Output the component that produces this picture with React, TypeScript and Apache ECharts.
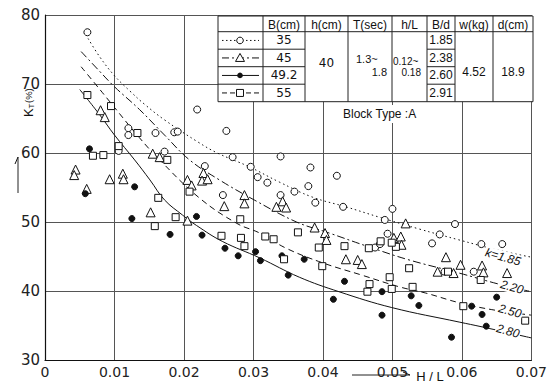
import React, { useEffect, useRef } from "react";
import * as echarts from "echarts";

// ---- data (x = H/L, y = K_T %) ----
const circleB35: [number, number][] = [
  [0.0061, 77.5], [0.012, 63.6], [0.012, 62.6], [0.0159, 62.9], [0.0186, 63.0], [0.0191, 63.1],
  [0.0106, 60.3], [0.0172, 60.2], [0.0219, 66.3], [0.0261, 63.2], [0.027, 59.4], [0.0296, 58.0],
  [0.0339, 59.5], [0.023, 58.1], [0.0306, 56.5], [0.032, 55.7], [0.0256, 53.9], [0.0339, 53.9],
  [0.0382, 57.9], [0.042, 56.7], [0.0379, 55.2], [0.0359, 54.4], [0.0389, 52.8], [0.0429, 52.2],
  [0.05, 51.9], [0.0489, 50.3], [0.0493, 48.3], [0.059, 49.7], [0.0568, 48.2], [0.0557, 46.9],
  [0.0628, 46.8], [0.0658, 46.8], [0.0475, 46.3], [0.0482, 46.8], [0.0575, 42.8], [0.0617, 42.8],
];
const triangleB45: [number, number][] = [
  [0.008, 66.2], [0.0086, 65.2], [0.0044, 57.6], [0.0042, 56.8], [0.0093, 56.2], [0.0112, 57.0],
  [0.0113, 56.2], [0.006, 54.8], [0.0152, 51.4], [0.0155, 59.9], [0.0165, 59.4], [0.0205, 50.2],
  [0.0205, 56.1], [0.0211, 55.3], [0.0228, 57.1], [0.0226, 56.0], [0.0234, 56.2], [0.0287, 53.9],
  [0.0287, 52.7], [0.0258, 52.3], [0.0333, 52.2], [0.0342, 53.0], [0.0347, 52.1], [0.0388, 49.2],
  [0.0403, 48.4], [0.0405, 47.4], [0.0433, 44.6], [0.045, 44.5], [0.0456, 43.9], [0.0502, 47.7],
  [0.0519, 49.8], [0.0512, 47.9], [0.0513, 46.7], [0.0577, 44.9], [0.0598, 43.8], [0.0565, 42.8],
  [0.0588, 42.6], [0.0629, 43.7], [0.0631, 42.7], [0.0665, 42.6],
];
const filledB492: [number, number][] = [
  [0.0064, 60.6], [0.0058, 54.1], [0.0129, 55.1], [0.0125, 50.5], [0.018, 48.2], [0.0218, 50.8],
  [0.0226, 48.1], [0.0259, 46.2], [0.0278, 45.1], [0.0303, 45.7], [0.031, 44.4], [0.0341, 45.1],
  [0.035, 42.3], [0.0373, 44.6], [0.0431, 41.4], [0.0415, 38.8], [0.0485, 39.9], [0.0485, 36.5],
  [0.0527, 39.3], [0.0538, 37.9], [0.0614, 37.8], [0.065, 39.1], [0.0629, 36.6], [0.0635, 34.9],
  [0.0585, 33.3],
];
const squareB55: [number, number][] = [
  [0.0061, 68.4], [0.0095, 66.8], [0.0133, 62.9], [0.0106, 61.0], [0.0069, 59.6], [0.0084, 59.7],
  [0.0176, 59.0], [0.0163, 53.5], [0.0158, 49.4], [0.0188, 50.7], [0.0208, 54.4], [0.0281, 50.4],
  [0.0254, 48.0], [0.0282, 47.7], [0.0287, 46.5], [0.0317, 47.9], [0.0329, 47.5], [0.0344, 44.6],
  [0.0364, 48.5], [0.0394, 46.3], [0.0399, 43.6], [0.0431, 46.5], [0.0466, 46.2], [0.0483, 47.2],
  [0.0505, 46.4], [0.0499, 47.0], [0.0496, 42.0], [0.0467, 41.0], [0.0464, 39.9], [0.0499, 40.3],
  [0.0524, 43.3], [0.0529, 40.6], [0.058, 42.8], [0.0627, 41.6], [0.0602, 37.8], [0.0691, 35.7],
];

const curveK185: [number, number][] = [
  [0.0062, 76.6], [0.0079, 73.9], [0.01, 71.2], [0.0122, 69.0], [0.0144, 67.0], [0.0172, 64.8],
  [0.022, 61.6], [0.0248, 60.0], [0.0294, 58.0], [0.0337, 55.8], [0.0385, 53.6], [0.0433, 52.2],
  [0.0481, 50.7], [0.0538, 49.0], [0.0596, 47.4], [0.0653, 45.9], [0.07, 44.9],
];
const curveK220: [number, number][] = [
  [0.0052, 74.7], [0.0079, 71.8], [0.01, 69.6], [0.0136, 66.3], [0.0172, 62.6], [0.0208, 59.0],
  [0.0251, 56.1], [0.0301, 53.2], [0.0362, 50.0], [0.0409, 48.4], [0.0466, 46.4], [0.0524, 44.5],
  [0.0596, 42.6], [0.0653, 41.0], [0.07, 39.9],
];
const curveK250: [number, number][] = [
  [0.0052, 72.5], [0.0079, 69.2], [0.01, 66.6], [0.0136, 62.2], [0.0165, 59.0], [0.0222, 53.5],
  [0.0276, 49.8], [0.0309, 48.4], [0.0347, 46.2], [0.0399, 44.1], [0.0456, 42.3], [0.051, 40.6],
  [0.0548, 39.7], [0.0596, 38.3], [0.0643, 37.3], [0.07, 36.5],
];
const curveK280: [number, number][] = [
  [0.005, 69.2], [0.0079, 65.5], [0.01, 62.6], [0.0129, 59.0], [0.0151, 56.1], [0.0172, 53.2],
  [0.0198, 51.0], [0.0218, 49.5], [0.0255, 47.2], [0.0309, 44.8], [0.0366, 42.0], [0.0423, 39.9],
  [0.0499, 37.6], [0.0596, 35.5], [0.0629, 34.8], [0.07, 33.2],
];
const curveLabels = ["k=1.85", "2.20", "2.50", "2.80"];

const tableHeaders = ["", "B(cm)", "h(cm)", "T(sec)", "h/L", "B/d", "w(kg)", "d(cm)"];
const bValues = ["35", "45", "49.2", "55"];
const bdValues = ["1.85", "2.38", "2.60", "2.91"];
const hValue = "40";
const tValues = ["1.3~", "1.8"];
const hlValues = ["0.12~", "0.18"];
const wValue = "4.52";
const dValue = "18.9";

const FONT = "DejaVu Sans";
const NARROW = "Liberation Sans";

export default function App() {
  const ref = useRef<HTMLDivElement>(null);
  useEffect(() => {
    const chart = echarts.init(ref.current!, null, { renderer: "svg" });
    const black = "#111";
    const lineSeries = (data: [number, number][], type: any) => ({
      type: "line",
      data,
      smooth: 0.4,
      showSymbol: false,
      symbol: "none",
      lineStyle: { color: black, width: 1, type },
      z: 2,
      silent: true,
    });
    const scatter = (data: [number, number][], symbol: string, size: number, filled: boolean) => ({
      type: "scatter",
      data,
      symbol,
      symbolSize: size,
      itemStyle: {
        color: filled ? black : "#fff",
        borderColor: black,
        borderWidth: 1,
        opacity: 1,
      },
      z: 3,
    });

    // table geometry (pixels)
    const colX = [218, 263, 305, 348, 392, 427, 455, 493, 533];
    const rowY = [16, 31.7, 49.2, 66.7, 84.2, 101.7];
    const g: any[] = [];
    const txt = (x: number, y: number, s: string, align = "center", size = 12, family = FONT) => ({
      type: "text",
      x,
      y,
      z: 12,
      style: { text: s, fontSize: size, fontFamily: family, fill: black, align, verticalAlign: "middle" },
    });
    const ln = (x1: number, y1: number, x2: number, y2: number, w = 1) => ({
      type: "line",
      z: 11,
      shape: { x1, y1, x2, y2 },
      style: { stroke: "#222", lineWidth: w },
    });
    g.push({
      type: "rect",
      z: 10,
      shape: { x: colX[0], y: rowY[0], width: colX[8] - colX[0], height: rowY[5] - rowY[0] },
      style: { fill: "#fff", stroke: "#222", lineWidth: 1 },
    });
    for (let i = 1; i < colX.length - 1; i++) g.push(ln(colX[i], rowY[0], colX[i], rowY[5]));
    g.push(ln(colX[0], rowY[1], colX[8], rowY[1]));
    for (let r = 2; r < 5; r++) {
      g.push(ln(colX[0], rowY[r], colX[2], rowY[r]));
      g.push(ln(colX[5], rowY[r], colX[6], rowY[r]));
    }
    tableHeaders.forEach((h, i) => {
      if (h) g.push(txt((colX[i] + colX[i + 1]) / 2, (rowY[0] + rowY[1]) / 2 + 1, h, "center", 12, NARROW));
    });
    const rowsC = [0, 1, 2, 3].map((r) => (rowY[r + 1] + rowY[r + 2]) / 2);
    bValues.forEach((b, r) => g.push(txt((colX[1] + colX[2]) / 2, rowsC[r], b)));
    bdValues.forEach((b, r) => g.push(txt((colX[5] + colX[6]) / 2, rowsC[r], b, "center", 12, NARROW)));
    g.push(txt((colX[2] + colX[3]) / 2, 62.5, hValue));
    g.push(txt(colX[3] + 8, 58.5, tValues[0], "left", 11, NARROW));
    g.push(txt(colX[4] - 5, 72, tValues[1], "right", 11, NARROW));
    g.push(txt(colX[4] + 1, 61.5, hlValues[0], "left", 10, NARROW));
    g.push(txt(colX[5] - 6, 72.5, hlValues[1], "right", 10, NARROW));
    g.push(txt((colX[6] + colX[7]) / 2, 71.5, wValue, "center", 12, NARROW));
    g.push(txt((colX[7] + colX[8]) / 2, 71.5, dValue, "center", 12, NARROW));
    // legend samples
    const dashes: any[] = [[1.5, 2.5], [7, 3, 2, 3], "solid", [5, 3]];
    const mk = ["circle", "triangle", "dot", "square"];
    rowsC.forEach((cy, r) => {
      g.push({
        type: "line",
        z: 11,
        shape: { x1: 222, y1: cy, x2: 259, y2: cy },
        style: { stroke: black, lineWidth: 1, lineDash: dashes[r] === "solid" ? null : dashes[r] },
      });
      const cx = 240;
      if (mk[r] === "circle")
        g.push({ type: "circle", z: 12, shape: { cx, cy, r: 3.3 }, style: { fill: "#fff", stroke: black, lineWidth: 1 } });
      if (mk[r] === "dot")
        g.push({ type: "circle", z: 12, shape: { cx, cy, r: 2.8 }, style: { fill: black } });
      if (mk[r] === "square")
        g.push({ type: "rect", z: 12, shape: { x: cx - 3.5, y: cy - 3.5, width: 7, height: 7 }, style: { fill: "#fff", stroke: black, lineWidth: 1 } });
      if (mk[r] === "triangle")
        g.push({ type: "polygon", z: 12, shape: { points: [[cx, cy - 4.5], [cx - 4.5, cy + 3.5], [cx + 4.5, cy + 3.5]] }, style: { fill: "#fff", stroke: black, lineWidth: 1 } });
    });
    // Block type text
    g.push({ type: "rect", z: 9, shape: { x: 340, y: 105, width: 84, height: 18 }, style: { fill: "#fff" } });
    g.push(txt(343, 114, "Block Type :A", "left", 12, NARROW));
    // curve labels
    const lblPos = [[503, 257], [512, 287], [510, 311], [508, 331]];
    curveLabels.forEach((s, i) => {
      g.push({
        type: "text",
        x: lblPos[i][0],
        y: lblPos[i][1],
        rotation: -0.27,
        z: 8,
        style: {
          text: s, fontSize: 12, fontFamily: NARROW, fontStyle: "italic", fill: black,
          align: "center", verticalAlign: "middle", backgroundColor: "#fff", padding: [0, 1],
        },
      });
    });
    // y axis label: rotated group reading bottom-to-top
    g.push({
      type: "group",
      x: 28,
      y: 117,
      rotation: Math.PI / 2,
      z: 12,
      children: [
        { type: "text", x: 0, y: 0, style: { text: "K", fontSize: 13, fontFamily: NARROW, fill: black, align: "left", verticalAlign: "middle" } },
        { type: "text", x: 8.5, y: 3, style: { text: "T", fontSize: 8, fontFamily: NARROW, fill: black, align: "left", verticalAlign: "middle" } },
        { type: "text", x: 14, y: 0, style: { text: "(%)", fontSize: 9.5, fontFamily: NARROW, fill: black, align: "left", verticalAlign: "middle" } },
      ],
    });
    g.push(ln(18, 193, 18, 157));
    g.push({ type: "polyline", z: 12, shape: { points: [[15, 164], [18, 157]] }, style: { stroke: black, lineWidth: 1, fill: null } });
    // x axis label
    g.push(ln(352, 375, 410, 375));
    g.push({ type: "polyline", z: 12, shape: { points: [[403, 372], [410, 375]] }, style: { stroke: black, lineWidth: 1, fill: null } });
    g.push(txt(430, 376, "H / L", "center", 13, NARROW));

    chart.setOption({
      animation: false,
      backgroundColor: "#fff",
      grid: { left: 45, right: 17, top: 15, bottom: 23, containLabel: false },
      xAxis: {
        type: "value",
        min: 0,
        max: 0.07,
        interval: 0.01,
        axisLine: { show: true, onZero: false, lineStyle: { color: black, width: 1.2 } },
        axisTick: { show: false },
        splitLine: { show: true, lineStyle: { color: "#555", width: 1 } },
        axisLabel: {
          fontSize: 14,
          fontFamily: FONT,
          color: "#222",
          margin: 5,
          formatter: (v: number) => (v === 0 ? "0" : v.toFixed(2)),
        },
      },
      yAxis: {
        type: "value",
        min: 30,
        max: 80,
        interval: 10,
        axisLine: { show: true, onZero: false, lineStyle: { color: black, width: 1.2 } },
        axisTick: { show: false },
        splitLine: { show: true, lineStyle: { color: "#555", width: 1 } },
        axisLabel: { fontSize: 15, fontFamily: FONT, color: "#222", margin: 5 },
      },
      series: [
        lineSeries(curveK185, [1.5, 3]),
        lineSeries(curveK220, [8, 3, 2, 3]),
        lineSeries(curveK250, [6, 4]),
        lineSeries(curveK280, "solid"),
        scatter(circleB35, "circle", 7, false),
        scatter(triangleB45, "triangle", 9, false),
        scatter(filledB492, "circle", 6, true),
        scatter(squareB55, "rect", 7, false),
      ],
      graphic: g,
    });
    return () => chart.dispose();
  }, []);
  return <div ref={ref} style={{ position: "fixed", left: 0, top: 0, width: 550, height: 383 }} />;
}
